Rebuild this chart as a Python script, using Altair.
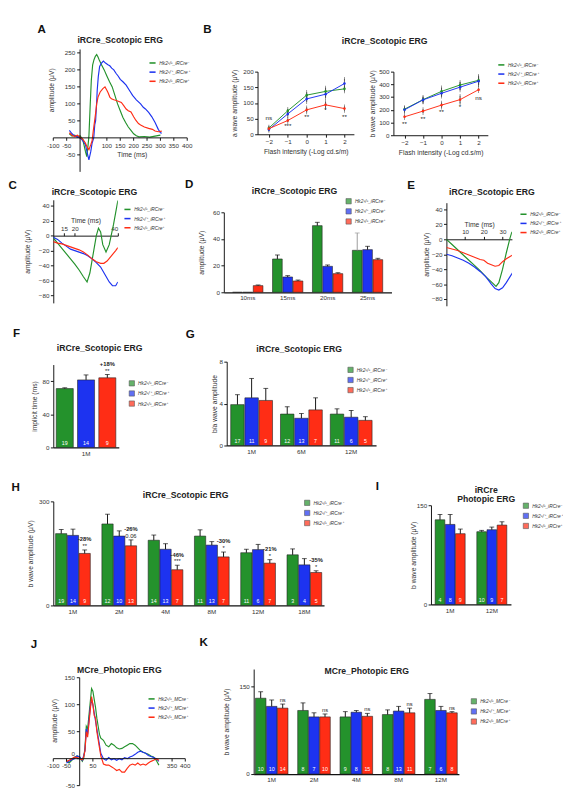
import altair as alt
import pandas as pd

FONT = "Liberation Sans"
COLORS = ["#24922c", "#1d33f0", "#ff2d15"]
IR = ["Hk2ᶜ/ᶜ_iRCre⁻", "Hk2ᶜ/⁺_iRCre⁺", "Hk2ᶜ/ᶜ_iRCre⁺"]
MC = ["Hk2ᶜ/ᶜ_MCre⁻", "Hk2ᶜ/⁺_MCre⁺", "Hk2ᶜ/ᶜ_MCre⁺"]

# ---------------- Panel A traces (time ms, amplitude uV)
a_t_green = [-40, -30, -20, -10, 0, 10, 15, 20, 25, 30, 33, 38, 42, 47, 52, 57, 62, 67, 72, 80, 90, 100, 110, 120, 130, 140, 150, 160, 170, 180, 190, 200, 210, 220, 240, 260, 280, 300]
a_v_green = [12, 5, 8, 2, 6, -5, -22, -40, -55, -20, 5, 100, 170, 215, 230, 240, 245, 238, 228, 215, 200, 182, 165, 150, 125, 100, 80, 60, 45, 32, 22, 12, 6, 3, 4, 2, 5, 8]
a_t_blue = [-40, -30, -20, -10, 0, 10, 20, 27, 33, 40, 45, 51, 55, 58, 61, 64, 68, 73, 80, 87, 95, 104, 111, 118, 126, 134, 142, 150, 160, 172, 184, 196, 210, 226, 236, 244, 256, 268, 280, 292, 300, 305]
a_v_blue = [22, 12, 5, 3, 0, -8, -20, -45, -65, -40, -15, 0, 40, 50, 90, 140, 180, 210, 220, 226, 220, 215, 212, 205, 200, 190, 182, 172, 165, 155, 140, 125, 112, 100, 90, 85, 75, 62, 45, 25, 15, 14]
a_t_red = [-40, -30, -20, -10, 0, 10, 20, 27, 33, 40, 45, 50, 57, 62, 67, 75, 85, 93, 100, 105, 111, 117, 126, 135, 145, 154, 163, 172, 180, 190, 200, 208, 218, 226, 240, 256, 270, 280, 292, 305]
a_v_red = [15, 8, 4, 8, 2, -4, -15, -28, -35, -20, -8, 25, 66, 100, 120, 135, 145, 150, 140, 132, 120, 115, 112, 110, 107, 104, 95, 85, 80, 76, 62, 52, 42, 38, 32, 28, 25, 20, 18, 20]
a_xticks = [-100, -50, 100, 150, 200, 250, 300, 350, 400]
a_yticks = [-50, 50, 100, 150, 200, 250]

# ---------------- Panel B (flash intensity)
b_x = [-2, -1, 0, 1, 2]
b_a_green = [20, 75, 125, 137, 145]
b_a_green_err = [4, 6, 10, 12, 8]
b_a_blue = [15, 65, 113, 128, 162]
b_a_blue_err = [4, 8, 10, 12, 15]
b_a_red = [18, 44, 78, 94, 82]
b_a_red_err = [3, 5, 8, 10, 7]
b_a_ann = ["ns", "***", "**", "*", "**"]
b_a_ann_y = [53, 25, 56, 78, 56]
b_b_green = [205, 280, 345, 395, 432]
b_b_green_err = [15, 20, 30, 25, 35]
b_b_blue = [200, 278, 330, 378, 425]
b_b_blue_err = [15, 20, 25, 25, 30]
b_b_red = [145, 190, 237, 280, 358]
b_b_red_err = [10, 15, 20, 30, 10]
b_b_ann = ["**", "**", "**", "*", "ns"]
b_b_ann_y = [91, 129, 182, 220, 295]

# ---------------- Panel C traces
c_t_green = [10, 12, 14, 16, 18, 20, 22, 24, 25.7, 27, 28.5, 30, 31, 32, 33, 34.5, 36, 38, 40]
c_v_green = [-3, -10, -17, -24, -31, -38, -46, -55, -62, -50, -25, 0, 10, 5, -12, -22, -12, 15, 47]
c_t_blue = [10, 12, 14, 16, 18, 20, 22, 24, 26, 28, 30, 32, 34, 36, 37.5, 39, 40]
c_v_blue = [-2, -5, -10, -14, -18, -20, -22, -24, -27, -31, -36, -42, -52, -62, -67, -67, -62]
c_t_red = [10, 12, 14, 16, 18, 20, 22, 24, 26, 28, 30, 32, 33.5, 35, 37, 39, 40]
c_v_red = [-8, -10, -11, -13, -15, -17, -19, -22, -26, -31, -35, -37, -37, -34, -27, -20, -16]

# ---------------- Panel D bars
d_groups = ["10ms", "15ms", "20ms", "25ms"]
d_green = [0, 25, 50, 31.5]
d_green_err = [0, 3, 2.5, 13]
d_blue = [0, 11.5, 19.5, 32]
d_blue_err = [0, 1, 1, 2.5]
d_red = [5, 8.5, 14, 24.5]
d_red_err = [0.5, 0.7, 0.7, 1]

# ---------------- Panel E traces
e_t_green = [0, 3, 6, 9, 12, 15, 18, 21, 24, 26.5, 28, 30, 32, 34, 35]
e_v_green = [0, -7, -14, -21, -28, -35, -42, -50, -57, -63, -58, -40, -18, 2, 10]
e_t_blue = [0, 3, 6, 9, 12, 15, 18, 21, 24, 26, 28, 30, 32, 34, 35.5]
e_v_blue = [-20, -22, -25, -28, -32, -37, -43, -50, -60, -66, -68, -65, -58, -50, -44]
e_t_red = [0, 3, 6, 9, 12, 15, 18, 20, 22, 24, 26, 28, 30, 32, 34, 35.5]
e_v_red = [-11, -13, -15, -18, -21, -24, -27, -28, -32, -34, -36, -35, -30, -26, -23, -21]

# ---------------- Panel F bars
f_groups = ["1M"]
f_green, f_green_err, f_green_n = [71], [1], [19]
f_blue, f_blue_err, f_blue_n = [81.5], [6], [14]
f_red, f_red_err, f_red_n = [84], [4], [9]
f_ann_top, f_ann_bot = ["+18%"], ["**"]

# ---------------- Panel G bars
g_groups = ["1M", "6M", "12M"]
g_green, g_green_err, g_green_n = [3.9, 3.0, 3.0], [0.95, 0.7, 0.5], [17, 12, 11]
g_blue, g_blue_err, g_blue_n = [4.55, 2.6, 2.7], [1.85, 0.45, 0.65], [11, 13, 6]
g_red, g_red_err, g_red_n = [4.3, 3.4, 2.4], [1.15, 1.15, 0.35], [9, 7, 5]

# ---------------- Panel H bars
h_groups = ["1M", "2M", "4M", "8M", "12M", "18M"]
h_green, h_green_err = [207, 235, 188, 200, 152, 146], [12, 28, 15, 18, 10, 17]
h_blue, h_blue_err = [202, 200, 162, 174, 161, 117], [18, 15, 16, 10, 15, 18]
h_red, h_red_err = [150, 172, 103, 140, 122, 95], [10, 17, 13, 14, 10, 5]
h_green_n = [19, 12, 14, 11, 11, 3]
h_blue_n = [14, 10, 13, 13, 6, 4]
h_red_n = [9, 13, 7, 7, 7, 5]
h_ann_top = ["-28%", "-26%", "-46%", "-30%", "-21%", "-35%"]
h_ann_bot = ["**", "0.06", "***", "*", "*", "*"]

# ---------------- Panel I bars
i_groups = ["1M", "12M"]
i_green, i_green_err, i_green_n = [128, 110], [8, 2], [4, 10]
i_blue, i_blue_err, i_blue_n = [121, 113], [15, 4], [8, 9]
i_red, i_red_err, i_red_n = [107, 120], [7, 5], [9, 7]

# ---------------- Panel J traces
j_t = [-50, -40, -30, -20, -10, 0, 10, 15, 20, 25, 30, 35, 40, 45, 50, 55, 60, 65, 70, 75, 80, 90, 100, 110, 120, 130, 140, 150, 160, 170, 180, 190, 200, 210, 220, 230, 240, 250, 260, 270, 280, 290, 300]
j_v_green = [-5, -8, -3, 2, 5, 3, -5, 0, 20, 60, 55, 80, 105, 130, 125, 110, 95, 75, 60, 45, 38, 34, 25, 22, 28, 25, 20, 18, 19, 22, 25, 28, 28, 25, 20, 15, 12, 10, 8, 5, 3, -3, -12]
j_v_blue = [-8, -5, -2, 0, 5, 3, -3, 5, 15, 55, 45, 70, 95, 110, 100, 85, 70, 55, 40, 25, 10, 0, -3, 2, -2, 0, -3, 0, -2, 2, 0, 3, 5, 8, 12, 14, 12, 10, 6, 4, 2, 0, -5]
j_v_red = [-5, -3, 0, 3, 2, 0, -2, 3, 15, 50, 40, 65, 90, 115, 100, 80, 75, 50, 35, 20, 5, -10, -12, -12, -15, -18, -22, -20, -25, -25, -18, -12, -10, -12, -8, -12, -10, -12, -8, -5, -3, 0, -3]
j_xticks = [-100, -50, 50, 350, 400]
j_yticks = [-50, 0, 50, 100, 150]

# ---------------- Panel K bars
k_groups = ["1M", "2M", "4M", "8M", "12M"]
k_green, k_green_err = [130, 109, 98, 102, 128], [11, 13, 9, 8, 10]
k_blue, k_blue_err = [116, 98, 106, 108, 109], [11, 7, 3, 8, 7]
k_red, k_red_err = [113, 98, 99, 105, 105], [7, 5, 5, 8, 2]
k_green_n = [10, 8, 9, 8, 7]
k_blue_n = [10, 7, 8, 13, 6]
k_red_n = [14, 10, 15, 11, 8]
k_ann_bot = ["ns", "ns", "ns", "ns", "ns"]

RES = dict(color="independent", xOffset="independent")
AX = "#111"
LAB = "#333"


def hc(*charts, spacing=0):
    return alt.hconcat(*charts, spacing=spacing).resolve_scale(**RES)


def vc(*charts, spacing=0, bounds="full"):
    return alt.vconcat(*charts, spacing=spacing, bounds=bounds).resolve_scale(**RES)


def spacer(h):
    return alt.Chart(pd.DataFrame({"z": [0]})).mark_point(opacity=0, size=1).encode(
        x=alt.X("z:Q", axis=None), y=alt.Y("z:Q", axis=None)).properties(width=1, height=h)


def legend(x, y, kind):
    common = dict(orient="none", legendX=x, legendY=y, title=None, labelFont=FONT,
                  labelFontSize=5, labelFontStyle="italic", labelColor=LAB,
                  rowPadding=1.5, labelOffset=3, padding=0)
    if kind == "line":
        return alt.Legend(symbolType="stroke", symbolSize=40, symbolStrokeWidth=1.6, **common)
    return alt.Legend(symbolType="square", symbolSize=30, symbolStrokeColor="#111",
                      symbolStrokeWidth=0.6, symbolOpacity=1, **common)


def ptitle(title, toff):
    return alt.Title(title, font=FONT, fontSize=9, fontWeight="bold", color="#222",
                     anchor="middle", offset=toff, lineHeight=9)


def panel(ch, letter, title, toff=4, loff=3, ldx=-14, pre=0, own=False):
    if own:
        ch = ch.properties(title=ptitle(title, toff))
    body = vc(spacer(pre), ch, bounds="flush") if pre else ch
    inner = vc(body) if own else vc(body).properties(title=ptitle(title, toff))
    return vc(inner).properties(title=alt.Title(
        letter, font=FONT, fontSize=12, fontWeight="bold", color="#111", anchor="start",
        frame="bounds", dx=ldx, offset=loff))


def trace_panel(ts, vs, labels, xdom, ydom, w, h, xvals, yvals, xorient, xtitle, leg,
                yaxis_at=0, ytp=3, manual=False, ytitle_y=0, ytitle_dx=28, raise_zero=False,
                xtitle_x=0):
    rows = [dict(s=lab, t=t, v=v) for lab, tt, vv in zip(labels, ts, vs) for t, v in zip(tt, vv)]
    df = pd.DataFrame(rows)
    xs = alt.Scale(domain=xdom, nice=False, zero=False)
    ys = alt.Scale(domain=ydom, nice=False, zero=False)
    cenc = alt.Color("s:N", sort=labels, scale=alt.Scale(domain=labels, range=COLORS), legend=leg)
    if not manual:
        zy = h * ydom[1] / (ydom[1] - ydom[0])
        xoff = -(h - zy) if xorient == "bottom" else -zy
        xax = alt.Axis(orient=xorient, offset=xoff, values=xvals, format="d", titlePadding=2,
                       title=xtitle if xtitle else None)
        yax = alt.Axis(orient="left", values=yvals, title="amplitude (μV)", format="d",
                       titlePadding=ytp)
        return alt.Chart(df).mark_line(strokeWidth=1.2, clip=True).encode(
            x=alt.X("t:Q", scale=xs, axis=xax), y=alt.Y("v:Q", scale=ys, axis=yax), color=cenc
        ).properties(width=w, height=h)

    # axes crossing inside the plot: drawn through the scales with rules and texts
    xn = lambda f: alt.X(f, type="quantitative", scale=xs, axis=None)
    yn = lambda f: alt.Y(f, type="quantitative", scale=ys, axis=None)
    lines = alt.Chart(df).mark_line(strokeWidth=1.2, clip=True).encode(
        x=xn("t"), y=yn("v"), color=cenc)
    xu = 3.0 * (xdom[1] - xdom[0]) / w
    yu = 3.0 * (ydom[1] - ydom[0]) / h
    ydf = pd.DataFrame({"x0": [yaxis_at], "y0": [ydom[0]], "y1": [ydom[1]]})
    xdf = pd.DataFrame({"x0": [xdom[0]], "x1": [xdom[1]], "y0": [0]})
    ytk = pd.DataFrame({"v": yvals, "x0": yaxis_at, "x1": yaxis_at - xu,
                        "lab": [str(v) for v in yvals]})
    xtk = pd.DataFrame({"t": xvals, "y0": 0, "y1": -yu, "lab": [str(v) for v in xvals]})
    layers = [
        lines,
        alt.Chart(ydf).mark_rule(color=AX, strokeWidth=1).encode(x=xn("x0"), y=yn("y0"), y2="y1:Q"),
        alt.Chart(xdf).mark_rule(color=AX, strokeWidth=1).encode(x=xn("x0"), x2="x1:Q", y=yn("y0")),
        alt.Chart(ytk).mark_rule(color=AX, strokeWidth=1).encode(x=xn("x0"), x2="x1:Q", y=yn("v")),
        alt.Chart(xtk).mark_rule(color=AX, strokeWidth=1).encode(x=xn("t"), y=yn("y0"), y2="y1:Q"),
        alt.Chart(xtk).mark_text(align="center", baseline="top", dy=5, fontSize=6.5, font=FONT,
                                 color=LAB).encode(x=xn("t"), y=yn("y0"), text="lab:N"),
    ]
    normal = ytk[ytk.v != 0] if raise_zero else ytk
    layers.append(alt.Chart(normal).mark_text(align="right", baseline="middle", dx=-5,
                                              fontSize=6.5, font=FONT, color=LAB).encode(
        x=xn("x0"), y=yn("v"), text="lab:N"))
    if raise_zero:
        layers.append(alt.Chart(ytk[ytk.v == 0]).mark_text(
            align="right", baseline="bottom", dx=-5, dy=-2, fontSize=6.5, font=FONT,
            color=LAB).encode(x=xn("x0"), y=yn("v"), text="lab:N"))
    tdf = pd.DataFrame({"x0": [yaxis_at], "y": [ytitle_y], "t": ["amplitude (μV)"]})
    layers.append(alt.Chart(tdf).mark_text(angle=270, align="center", baseline="middle",
                                           dy=-ytitle_dx, fontSize=7, font=FONT, color=LAB).encode(
        x=xn("x0"), y=yn("y"), text="t:N"))
    if xtitle:
        ttl = pd.DataFrame({"x": [xtitle_x], "y0": [0], "t": [xtitle]})
        layers.append(alt.Chart(ttl).mark_text(align="center", baseline="middle", dy=18,
                                               fontSize=7, font=FONT, color=LAB).encode(
            x=xn("x"), y=yn("y0"), text="t:N"))
    return alt.layer(*layers).properties(width=w, height=h)


def bar_panel(groups, vals, errs, ns, labels, ydom, yvals, w, h, ytitle, leg,
              pin=0.25, pout=0.1, poff=0.08, ann_top=None, ann_bot=None, errcol=None, ytp=3):
    rows = []
    for si, lab in enumerate(labels):
        for gi, g in enumerate(groups):
            v = vals[si][gi]
            e = errs[si][gi]
            rows.append(dict(g=g, s=lab, v=v, hi=(v + e) if e else None,
                             n=str(ns[si][gi]) if ns else "",
                             ec=errcol[si][gi] if errcol else "#111",
                             t1=(ann_top[gi] if (ann_top and si == 2) else ""),
                             t2=(ann_bot[gi] if (ann_bot and si == 2) else "")))
    df = pd.DataFrame(rows)
    ys = alt.Scale(domain=ydom, nice=False)
    yax = alt.Axis(values=yvals, title=ytitle, titlePadding=ytp)
    base = alt.Chart(df).encode(
        x=alt.X("g:N", sort=groups, scale=alt.Scale(paddingInner=pin, paddingOuter=pout),
                axis=alt.Axis(title=None, labelAngle=0, ticks=False, labelPadding=3,
                              domainWidth=1.3)),
        xOffset=alt.XOffset("s:N", sort=labels, scale=alt.Scale(paddingInner=poff)),
    )
    bars = base.mark_bar(stroke="#222", strokeWidth=0.6).encode(
        y=alt.Y("v:Q", scale=ys, axis=yax),
        color=alt.Color("s:N", sort=labels, scale=alt.Scale(domain=labels, range=COLORS),
                        legend=leg))
    err = base.transform_filter("isValid(datum.hi)")
    rule = err.mark_rule(strokeWidth=1).encode(
        y=alt.Y("v:Q", scale=ys, axis=yax), y2="hi:Q", color=alt.Color("ec:N", scale=None))
    cap = err.mark_tick(thickness=1, size=5).encode(
        y=alt.Y("hi:Q", scale=ys, axis=yax), color=alt.Color("ec:N", scale=None))
    layers = [bars, rule, cap]
    if ns:
        layers.append(base.mark_text(color="white", fontSize=5.5, baseline="bottom", dy=-2,
                                     font=FONT).encode(y=alt.datum(0), text="n:N"))
    if ann_bot:
        layers.append(err.mark_text(color="#222", fontSize=6, baseline="bottom", dy=-1,
                                    font=FONT).encode(y=alt.Y("hi:Q", scale=ys, axis=yax), text="t2:N"))
    if ann_top:
        layers.append(err.mark_text(color="#222", fontSize=6, baseline="bottom", dy=-8,
                                    font=FONT, fontWeight="bold").encode(
            y=alt.Y("hi:Q", scale=ys, axis=yax), text="t1:N"))
    return alt.layer(*layers).properties(width=w, height=h)


def b_panel(series, errs, ann, ann_y, ydom, yvals, ytitle, w, h, leg, ytp=3):
    rows = []
    for lab, vv, ee in zip(IR, series, errs):
        for x, v, e in zip(b_x, vv, ee):
            rows.append(dict(s=lab, x=x, v=v, lo=v - e, hi=v + e))
    df = pd.DataFrame(rows)
    adf = pd.DataFrame(dict(x=b_x, y=ann_y, t=ann))
    xs = alt.Scale(domain=[-2.6, 2.5], nice=False, zero=False)
    ys = alt.Scale(domain=ydom, nice=False)
    xax = alt.Axis(values=b_x, title="Flash intensity (-Log cd.s/m)", format="d")
    yax = alt.Axis(values=yvals, title=ytitle, titlePadding=ytp)
    cscale = alt.Scale(domain=IR, range=COLORS)
    base = alt.Chart(df).encode(x=alt.X("x:Q", scale=xs, axis=xax))
    line = base.mark_line(strokeWidth=1).encode(
        y=alt.Y("v:Q", scale=ys, axis=yax),
        color=alt.Color("s:N", sort=IR, scale=cscale, legend=leg))
    pts = base.mark_point(filled=True, size=7, opacity=1).encode(
        y=alt.Y("v:Q", scale=ys, axis=yax),
        color=alt.Color("s:N", sort=IR, scale=cscale, legend=None))
    rule = base.mark_rule(strokeWidth=0.8, color="#444").encode(
        y=alt.Y("lo:Q", scale=ys, axis=yax), y2="hi:Q")
    cap1 = base.mark_tick(thickness=0.8, size=4, color="#444").encode(y=alt.Y("lo:Q", scale=ys, axis=yax))
    cap2 = base.mark_tick(thickness=0.8, size=4, color="#444").encode(y=alt.Y("hi:Q", scale=ys, axis=yax))
    txt = alt.Chart(adf).mark_text(fontSize=6.5, font=FONT, color="#222").encode(
        x=alt.X("x:Q", scale=xs, axis=xax), y=alt.Y("y:Q", scale=ys, axis=yax), text="t:N")
    return alt.layer(rule, cap1, cap2, line, pts, txt).properties(width=w, height=h)


TS = "iRCre_Scotopic ERG"

# ---- Panel A
pA = trace_panel([a_t_green, a_t_blue, a_t_red], [a_v_green, a_v_blue, a_v_red], IR,
                 [-100, 400], [-100, 260], 139, 127, a_xticks, a_yticks, "bottom",
                 "Time (ms)", legend(99, 10, "line"), yaxis_at=0, manual=True,
                 ytitle_y=140, ytitle_dx=29, xtitle_x=195)

# ---- Panel B
pBl = b_panel([b_a_green, b_a_blue, b_a_red], [b_a_green_err, b_a_blue_err, b_a_red_err],
              b_a_ann, b_a_ann_y, [0, 200], [0, 50, 100, 150, 200], "a wave amplitude (μV)",
              100, 65, None, ytp=6)
pBr = b_panel([b_b_green, b_b_blue, b_b_red], [b_b_green_err, b_b_blue_err, b_b_red_err],
              b_b_ann, b_b_ann_y, [0, 500], [0, 100, 200, 300, 400, 500], "b wave amplitude (μV)",
              98, 66, legend(108, -11, "line"), ytp=3)
pB = vc(spacer(12), hc(pBl, pBr, spacing=15))

# ---- Panel C
pC = trace_panel([c_t_green, c_t_blue, c_t_red], [c_v_green, c_v_blue, c_v_red], IR,
                 [10, 40], [-90, 48], 67, 107, [15, 20, 40],
                 [-80, -60, -40, -20, 0, 20, 40], "top", "Time (ms)",
                 legend(73, 6, "line"), yaxis_at=10, ytp=8)

# ---- Panel D
pD = bar_panel(d_groups, [d_green, d_blue, d_red], [d_green_err, d_blue_err, d_red_err], None,
               IR, [0, 60], [0, 20, 40, 60], 174, 83, "amplitude (μV)",
               legend(126, -15, "bar"), pin=0.24, pout=0.22, poff=0.06,
               errcol=[["#111", "#111", "#111", "#999"], ["#111"] * 4, ["#111"] * 4], ytp=8.5)

# ---- Panel E
pE = trace_panel([e_t_green, e_t_blue, e_t_red], [e_v_green, e_v_blue, e_v_red], IR,
                 [0, 35], [-89, 49], 68, 107, [10, 20, 30],
                 [-80, -60, -40, -20, 0, 20, 40], "top", "Time (ms)",
                 legend(76, 8, "line"), yaxis_at=0, ytp=2)

# ---- Panel F
pF = bar_panel(f_groups, [f_green, f_blue, f_red], [f_green_err, f_blue_err, f_red_err],
               [f_green_n, f_blue_n, f_red_n], IR, [0, 100], [0, 20, 40, 60, 80, 100], 68, 86,
               "implicit time (ms)", legend(78, 16, "bar"),
               pin=0.0, pout=0.05, poff=0.2, ann_top=f_ann_top, ann_bot=f_ann_bot, ytp=5)

# ---- Panel G
pG = bar_panel(g_groups, [g_green, g_blue, g_red], [g_green_err, g_blue_err, g_red_err],
               [g_green_n, g_blue_n, g_red_n], IR, [0, 8], [0, 2, 4, 6, 8], 155, 87,
               "b/a wave amplitude", legend(125, 5, "bar"),
               pin=0.16, pout=0.08, poff=0.05, ytp=1.5)

# ---- Panel H
pH = bar_panel(h_groups, [h_green, h_blue, h_red], [h_green_err, h_blue_err, h_red_err],
               [h_green_n, h_blue_n, h_red_n], IR, [0, 300], [0, 100, 200, 300], 281, 108,
               "b wave amplitude (μV)", legend(260, -2, "bar"),
               pin=0.25, pout=0.05, poff=0.04, ann_top=h_ann_top, ann_bot=h_ann_bot, ytp=5)

# ---- Panel I
pI = bar_panel(i_groups, [i_green, i_blue, i_red], [i_green_err, i_blue_err, i_red_err],
               [i_green_n, i_blue_n, i_red_n], IR, [0, 150], [0, 50, 100, 150], 83, 103,
               "b wave amplitude (μV)", legend(95, -3, "bar"),
               pin=0.28, pout=0.1, poff=0.05, ytp=0)

# ---- Panel J
pJ = trace_panel([j_t, j_t, j_t], [j_v_green, j_v_blue, j_v_red], MC,
                 [-100, 400], [-50, 150], 137, 112, j_xticks, j_yticks, "bottom", None,
                 legend(98, 18, "line"), yaxis_at=0, manual=True, ytitle_y=70,
                 ytitle_dx=26, raise_zero=True)

# ---- Panel K
pK = bar_panel(k_groups, [k_green, k_blue, k_red], [k_green_err, k_blue_err, k_red_err],
               [k_green_n, k_blue_n, k_red_n], MC, [0, 180], [0, 50, 100, 150], 213, 109,
               "b wave amplitude (μV)", legend(225, 30, "bar"),
               pin=0.23, pout=0.04, poff=0.04, ann_bot=k_ann_bot, ytp=10)

row1 = hc(panel(pA, "A", TS, toff=4, loff=1, ldx=-10, own=True),
          panel(pB, "B", TS, toff=4, loff=1, ldx=-28), spacing=10)
row2 = hc(panel(pC, "C", TS, toff=3, loff=-4, ldx=-16),
          panel(pD, "D", TS, toff=2.5, loff=-4, ldx=-13, pre=13), spacing=20)
row2 = hc(row2, panel(pE, "E", TS, toff=3, loff=-4, ldx=-16, pre=3), spacing=16)
row3 = hc(panel(pF, "F", TS, toff=8, loff=5, ldx=-18, pre=3),
          panel(pG, "G", TS, toff=5, loff=5, ldx=-26), spacing=17)
row4 = hc(panel(pH, "H", TS, toff=-1, loff=-3, ldx=-16),
          panel(pI, "I", ["iRCre", "Photopic ERG"], toff=-2.5, loff=-7, ldx=-35, pre=4),
          spacing=32)
row5 = hc(panel(pJ, "J", "MCre_Photopic ERG", toff=0, loff=16, ldx=-17, pre=9, own=True),
          panel(pK, "K", "MCre_Photopic ERG", toff=-7.5, loff=19, ldx=-24), spacing=8)

chart = alt.ConcatChart(
    concat=[row1, spacer(5), row2, spacer(22), row3, spacer(24), row4, spacer(22), row5],
    columns=1, align="none", spacing=0,
).resolve_scale(**RES).properties(
    padding={"left": 0, "top": 0, "right": 0, "bottom": 0}
).configure_view(stroke=None).configure_axis(
    labelFont=FONT, titleFont=FONT, labelFontSize=6.5, titleFontSize=7,
    titleFontWeight="normal", domainColor=AX, tickColor=AX, labelColor=LAB,
    titleColor=LAB, grid=False, tickSize=3, labelPadding=1.5, titlePadding=3, domainWidth=1
)

chart.save("out.html", embed_options={"renderer": "svg", "actions": False})
